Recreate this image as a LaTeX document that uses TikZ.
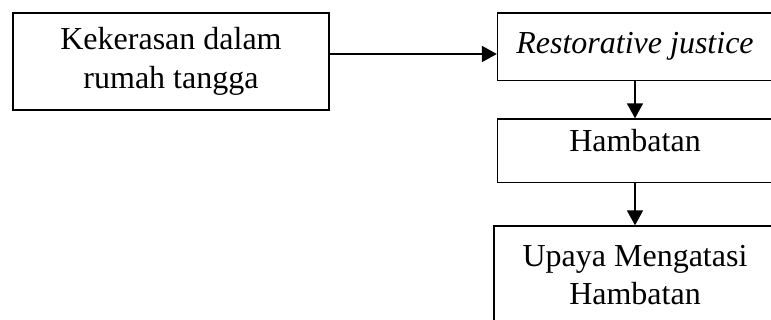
\documentclass[tikz,border=0pt]{standalone}
\usepackage{fontspec}
\setmainfont{Liberation Serif}
\usetikzlibrary{arrows.meta, positioning}

\begin{document}
\begin{tikzpicture}[x=1pt, y=1pt,
  kotak/.style={draw, line width=1.3pt, align=center, inner sep=0pt,
    font=\fontsize{32}{38.5}\selectfont},
  panah/.style={-{Triangle[length=15pt,width=16pt]}, line width=1.8pt}]
\useasboundingbox (0,0) rectangle (771,320);
\clip (0,0) rectangle (771,320);
% Kotak
\node[kotak, minimum width=316pt, minimum height=97pt] (kdrt) at (171,258.5) {Kekerasan dalam\\rumah tangga};
\node[kotak, minimum width=275pt, minimum height=67.5pt] (rj) at (635,273.3) {\itshape Restorative justice};
\node[kotak, minimum width=275pt, minimum height=63.5pt, text height=22pt, text depth=20pt] (hambatan) at (635,169.3) {Hambatan};
\node[kotak, minimum width=282pt, minimum height=98pt] (upaya) at (635,45) {Upaya Mengatasi\\Hambatan};
% Panah
\draw[panah] ([yshift=7.5pt]kdrt.east) -- ([yshift=7.5pt]kdrt.east -| rj.west);
\draw[panah] (rj.south) -- (hambatan.north);
\draw[panah] (hambatan.south) -- (upaya.north);
\end{tikzpicture}
\end{document}
